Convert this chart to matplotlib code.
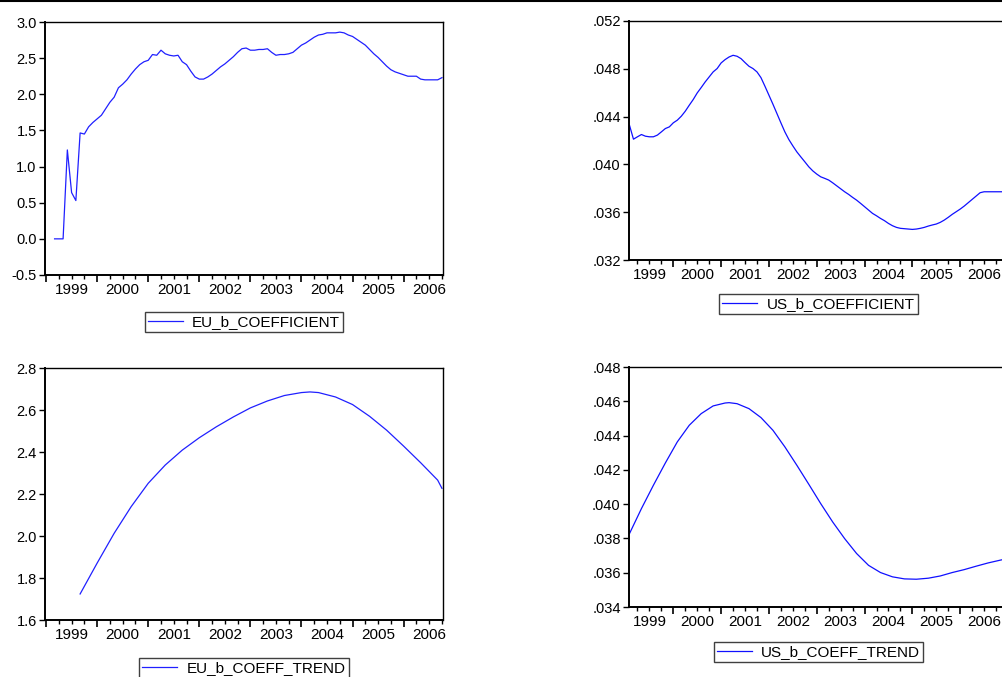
import numpy as np
import matplotlib
matplotlib.use("Agg")
import matplotlib.pyplot as plt
from matplotlib.ticker import FixedLocator, MultipleLocator, FuncFormatter
from matplotlib.lines import Line2D

plt.rcParams['font.family'] = ['Liberation Sans', 'DejaVu Sans']
plt.rcParams['axes.unicode_minus'] = False

# x positions are months counted from 1999M01 (0 = Jan 1999)
years = ['1999', '2000', '2001', '2002', '2003', '2004', '2005', '2006']

# EU b coefficient, monthly 1999M03 .. 2006M10
eu_coef_months = list(range(2, 94))
eu_coef = [0.0, 0.0, 0.0, 1.23, 0.64, 0.53, 1.465, 1.45, 1.55, 1.61,
           1.66, 1.71, 1.80, 1.89, 1.96, 2.09, 2.14, 2.20, 2.28, 2.35, 2.41, 2.45,
           2.47, 2.55, 2.54, 2.61, 2.56, 2.54, 2.53, 2.54, 2.45, 2.41, 2.32, 2.24,
           2.21, 2.21, 2.24, 2.28, 2.33, 2.38, 2.42, 2.47, 2.52, 2.58, 2.63, 2.64,
           2.61, 2.61, 2.62, 2.62, 2.63, 2.58, 2.54, 2.55, 2.55, 2.56, 2.58, 2.63,
           2.68, 2.71, 2.75, 2.79, 2.82, 2.83, 2.85, 2.85, 2.85, 2.86, 2.85, 2.82,
           2.80, 2.76, 2.72, 2.68, 2.62, 2.56, 2.51, 2.45, 2.39, 2.34, 2.31, 2.29,
           2.27, 2.25, 2.25, 2.25, 2.21, 2.20, 2.20, 2.20, 2.20, 2.23]

# US b coefficient, monthly 1999M02 .. 2006M12
us_coef_months = list(range(1, 96))
us_coef = [0.04328, 0.04211, 0.04231, 0.04250, 0.04236, 0.04231, 0.04231, 0.04245,
           0.04272, 0.04300, 0.04314,
           0.04348, 0.04370, 0.04403, 0.04445, 0.04495, 0.04543, 0.04598, 0.04643,
           0.04690, 0.04732, 0.04774, 0.04802,
           0.04849, 0.04877, 0.04899, 0.04913, 0.04905, 0.04885, 0.04852, 0.04821,
           0.04802, 0.04774, 0.04726, 0.04654,
           0.04579, 0.04504, 0.04426, 0.04348, 0.04272, 0.04208, 0.04155, 0.04105,
           0.04063, 0.04022, 0.03980, 0.03946,
           0.03919, 0.03896, 0.03883, 0.03869, 0.03846, 0.03821, 0.03796, 0.03771,
           0.03749, 0.03724, 0.03701, 0.03674,
           0.03646, 0.03618, 0.03590, 0.03570, 0.03548, 0.03529, 0.03506, 0.03487,
           0.03473, 0.03465, 0.03462, 0.03459,
           0.03456, 0.03459, 0.03465, 0.03473, 0.03484, 0.03493, 0.03501, 0.03515,
           0.03534, 0.03557, 0.03582, 0.03604,
           0.03626, 0.03651, 0.03679, 0.03707, 0.03735, 0.03763, 0.03771, 0.03771,
           0.03771, 0.03771, 0.03771, 0.03771]

# EU trend (read every few months)
eu_trend_months = [8, 12, 16, 20, 24, 28, 32, 36, 40, 44, 48, 52, 56, 60, 62, 64,
                   68, 72, 76, 80, 84, 88, 92, 93]
eu_trend = [1.724, 1.871, 2.013, 2.140, 2.251, 2.338, 2.409, 2.468, 2.520, 2.567,
            2.610, 2.643, 2.669, 2.683, 2.686, 2.683, 2.662, 2.626, 2.570, 2.504,
            2.428, 2.349, 2.266, 2.227]

# US trend (read every few months)
us_trend_months = [1, 4, 7, 10, 13, 16, 19, 22, 25, 26, 28, 31, 34, 37, 40, 43, 46,
                   49, 52, 55, 58, 61, 64, 67, 70, 73, 76, 79, 82, 85, 88, 91, 94, 95]
us_trend = [0.03828, 0.03974, 0.04110, 0.04240, 0.04363, 0.04460, 0.04528, 0.04573,
            0.04590, 0.04592, 0.04586, 0.04557, 0.04505, 0.04431, 0.04334, 0.04227,
            0.04116, 0.04003, 0.03896, 0.03799, 0.03712, 0.03643, 0.03601, 0.03576,
            0.03564, 0.03562, 0.03568, 0.03581, 0.03601, 0.03618, 0.03638, 0.03657,
            0.03673, 0.03678]

W, H = 1002, 677
fig = plt.figure(figsize=(W / 100, H / 100), dpi=100)
fig.patch.set_facecolor('white')


def make_axes(l, r, t, b):
    return fig.add_axes([l / W, (H - b) / H, (r - l) / W, (b - t) / H])


def style(ax, xlim, ylim, yticks, yfmt, label, leg_y):
    ax.set_xlim(*xlim)
    ax.set_ylim(*ylim)
    ax.xaxis.set_major_locator(FixedLocator([12 * i for i in range(9)]))
    ax.xaxis.set_minor_locator(MultipleLocator(3))
    ax.xaxis.set_major_formatter(FuncFormatter(lambda v, p: ''))
    ax.tick_params(axis='x', which='major', direction='out', length=5, width=1.2)
    ax.tick_params(axis='x', which='minor', direction='out', length=3, width=1.0)
    ax.set_yticks(yticks)
    ax.yaxis.set_major_formatter(FuncFormatter(yfmt))
    ax.tick_params(axis='y', direction='out', length=4, width=1.0,
                   labelsize=10.5, pad=2)
    for s in ax.spines.values():
        s.set_linewidth(1.0)
        s.set_color('black')
    ax.spines['left'].set_linewidth(1.4)
    ax.spines['bottom'].set_linewidth(1.4)
    # year labels centred in each year
    sec = ax.secondary_xaxis('bottom')
    sec.set_xticks([12 * i + 6 for i in range(len(years))])
    sec.set_xticklabels(years)
    sec.tick_params(length=0, labelsize=11, pad=6)
    sec.spines['bottom'].set_visible(False)
    leg = ax.legend([label], loc='center', bbox_to_anchor=(0.5, leg_y),
                    frameon=True, fancybox=False, framealpha=1,
                    edgecolor='#404040', fontsize=11, handlelength=2.3,
                    borderpad=0.2, handletextpad=0.6, borderaxespad=0)
    leg.get_frame().set_linewidth(1.0)


def eu_fmt(v, p):
    return '%.1f' % v


def us_fmt(v, p):
    return ('%.3f' % v).lstrip('0')


ax1 = make_axes(45, 443, 22, 275)
ax1.plot(eu_coef_months, eu_coef, color='#2020ff', lw=0.9)
style(ax1, (-0.25, 93.25), (-0.5, 3.0), np.arange(-0.5, 3.01, 0.5), eu_fmt,
      'EU_b_COEFFICIENT', -0.186)

ax2 = make_axes(629, 1008, 21, 260)
ax2.plot(us_coef_months, us_coef, color='#1010ff', lw=0.9)
style(ax2, (0.88, 96.0), (0.032, 0.052), np.arange(0.032, 0.0521, 0.004), us_fmt,
      'US_b_COEFFICIENT', -0.184)

ax3 = make_axes(45, 443, 368, 620)
ax3.plot(eu_trend_months, eu_trend, color='#2020ff', lw=0.9)
style(ax3, (-0.25, 93.25), (1.6, 2.8), np.arange(1.6, 2.81, 0.2), eu_fmt,
      'EU_b_COEFF_TREND', -0.192)

ax4 = make_axes(629, 1008, 367, 607)
ax4.plot(us_trend_months, us_trend, color='#1010ff', lw=0.9)
style(ax4, (0.88, 96.0), (0.034, 0.048), np.arange(0.034, 0.0481, 0.002), us_fmt,
      'US_b_COEFF_TREND', -0.1875)

# thin rule along the top edge
fig.add_artist(Line2D([0, 1], [1 - 1 / H, 1 - 1 / H], color='black', lw=1.5,
                      transform=fig.transFigure))

fig.savefig('out.png', dpi=100)
